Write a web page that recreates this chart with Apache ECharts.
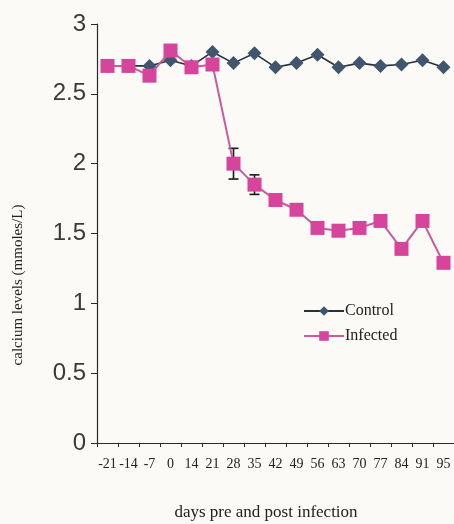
<!DOCTYPE html>
<html>
<head>
<meta charset="utf-8">
<script src="https://cdn.jsdelivr.net/npm/echarts@6/dist/echarts.min.js"></script>
<style>
html,body{margin:0;padding:0;background:#fbfaf6;}
#c{width:454px;height:524px;}
</style>
</head>
<body>
<div id="c"></div>
<script>
var days = ['-21','-14','-7','0','14','21','28','35','42','49','56','63','70','77','84','91','95'];
var control = [2.70,2.70,2.70,2.74,2.70,2.80,2.72,2.79,2.69,2.72,2.78,2.69,2.72,2.70,2.71,2.74,2.69];
var infected = [2.70,2.70,2.63,2.81,2.69,2.71,2.00,1.85,1.74,1.67,1.54,1.52,1.54,1.59,1.39,1.59,1.29];
var errDays = ['28','35'];
var errLow = [1.89,1.78];
var errHigh = [2.11,1.92];
var yTicks = [0,0.5,1,1.5,2,2.5,3];

var chart = echarts.init(document.getElementById('c'));
var errData = errDays.map(function(d,i){ return [d, errLow[i], errHigh[i]]; });
chart.setOption({
  backgroundColor:'#fbfaf6',
  animation:false,
  grid:{left:97,right:0,top:24,bottom:81},
  xAxis:{
    type:'category', data:days, boundaryGap:true,
    axisLine:{lineStyle:{color:'#2a2a2a',width:1.2}},
    axisTick:{show:true,interval:0,length:4,lineStyle:{color:'#2a2a2a'}},
    axisLabel:{interval:0,margin:14,fontFamily:'Liberation Serif',fontSize:14,color:'#222'},
    splitLine:{show:false}
  },
  yAxis:{
    type:'value', min:0, max:3, interval:0.5,
    axisLine:{show:true,lineStyle:{color:'#2a2a2a',width:1.2}},
    axisTick:{show:true,length:6,lineStyle:{color:'#2a2a2a'}},
    axisLabel:{margin:11,fontFamily:'Liberation Sans',fontSize:24,color:'#3a3a3a',
      formatter:function(v){ return yTicks.indexOf(v)>=0 ? String(v) : ''; }},
    splitLine:{show:false}
  },
  legend:{
    orient:'vertical', left:298, top:298, itemGap:9,
    itemWidth:40, itemHeight:12,
    textStyle:{fontFamily:'Liberation Serif',fontSize:16,color:'#222',padding:[0,0,0,-4]},
    data:['Control','Infected']
  },
  graphic:[
    {type:'text', x:18, y:285, rotation:Math.PI/2,
      style:{text:'calcium levels (mmoles/L)', font:'15px "Liberation Serif"', fill:'#222', align:'center', verticalAlign:'middle'}},
    {type:'text', x:266, y:513,
      style:{text:'days pre and post infection', font:'17px "Liberation Serif"', fill:'#222', align:'center', verticalAlign:'middle'}}
  ],
  series:[
    {name:'Control', type:'line', data:control, symbol:'diamond', symbolSize:14,
      lineStyle:{color:'#27313c',width:1.6}, itemStyle:{color:'#3f566e'}, z:2},
    {name:'errors', type:'custom', data:errData, z:3,
      renderItem:function(params, api){
        var x = api.coord([api.value(0), api.value(1)]);
        var y2 = api.coord([api.value(0), api.value(2)]);
        var hw = 5;
        var st = {stroke:'#1a1a1a', lineWidth:1.6};
        return {type:'group', children:[
          {type:'line', shape:{x1:x[0],y1:x[1],x2:y2[0],y2:y2[1]}, style:st},
          {type:'line', shape:{x1:x[0]-hw,y1:x[1],x2:x[0]+hw,y2:x[1]}, style:st},
          {type:'line', shape:{x1:y2[0]-hw,y1:y2[1],x2:y2[0]+hw,y2:y2[1]}, style:st}
        ]};
      }},
    {name:'Infected', type:'line', data:infected, symbol:'rect', symbolSize:14,
      lineStyle:{color:'#c95b9c',width:2}, itemStyle:{color:'#d6459b'}, z:4}
  ]
});
</script>
</body>
</html>
